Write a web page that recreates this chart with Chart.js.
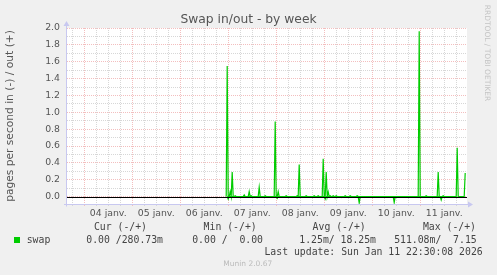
<!DOCTYPE html>
<html><head><meta charset="utf-8">
<script src="https://cdn.jsdelivr.net/npm/chart.js@4"></script>
<style>
html,body{margin:0;padding:0;background:#f0f0f0;}
#wrap{position:relative;width:497px;height:275px;overflow:hidden;}
canvas{position:absolute;left:0;top:0;}
.t{position:absolute;white-space:pre;font-family:'DejaVu Sans Mono',monospace;font-size:9.8px;line-height:12px;color:#444;}
.m{position:absolute;white-space:pre;font-family:'DejaVu Sans',sans-serif;font-size:7.5px;line-height:10px;color:#bbb;}
</style></head><body>
<div id="wrap">
<canvas id="c" width="497" height="275"></canvas>
<div id="legend"></div>
</div>
<script>
// ---- data (hours since 04 janv. 00:00, half-hour samples) ----
const chartTitle = 'Swap in/out - by week';
const yAxisTitle = 'pages per second in (-) / out (+)';
const dayLabels = ['04 janv.','05 janv.','06 janv.','07 janv.','08 janv.','09 janv.','10 janv.','11 janv.'];
const yTickLabels = ['0.0','0.2','0.4','0.6','0.8','1.0','1.2','1.4','1.6','1.8','2.0'];
const xStartHour = -8.6, xEndHour = 191.4, lastSampleHour = 190.5;
const outHours  = [71.5,73,74,75.5,80,82.5,83.5,87.5,90.5,95.5,97,101,106.5,107.5,111,115,117,119.5,121,122,123,124.5,126,130.5,133,136.5,167.5,171,177,179.5,186.5,190.5];
const outValues = [1.55,0.06,0.29,0.01,0.02,0.06,0.01,0.11,0.01,0.89,0.06,0.01,0.01,0.38,0.01,0.01,0.01,0.45,0.29,0.055,0.01,0.01,0.01,0.01,0.01,0.01,1.96,0.01,0.29,0.01,0.58,0.28];
const inHours   = [72,96.5,120.5,128.5,137.5,155,178.5];
const inValues  = [-0.03,-0.02,-0.03,-0.01,-0.075,-0.07,-0.04];
const legendName = 'swap';
const statHeaders = ['Cur (-/+)','Min (-/+)','Avg (-/+)','Max (-/+)'];
const statValues  = ['0.00 /280.73m','0.00 /  0.00','1.25m/ 18.25m','511.08m/  7.15'];
const lastUpdate = 'Last update: Sun Jan 11 22:30:08 2026';
const footer = 'Munin 2.0.67';

// ---- legend (HTML text) ----
const lg = document.getElementById('legend');
function addT(cls, txt, style){ const d=document.createElement('div'); d.className=cls; d.textContent=txt; Object.assign(d.style, style); lg.appendChild(d); return d; }
const headerRight = [350, 240.3, 131.3, 21];
const valueRight  = [334, 234, 121, 20.3];
statHeaders.forEach((h,i)=>addT('t', h, {right: headerRight[i]+'px', top:'221.3px'}));
statValues.forEach((v,i)=>addT('t', v, {right: valueRight[i]+'px', top:'234px'}));
addT('t', legendName, {left:'26.7px', top:'234px'});
addT('t', '', {left:'14px', top:'237px', width:'6px', height:'6px', background:'#00cc00'});
addT('t', lastUpdate, {right:'14.3px', top:'245.7px'});
addT('m', footer, {left:'0px', width:'495.5px', textAlign:'center', top:'259px'});

// ---- series ----
function spikeSeries(hours, values){
  const m = new Map();
  hours.forEach((h,i)=>m.set(h, values[i]));
  hours.forEach(h=>{ [h-0.5,h+0.5].forEach(f=>{ if(!m.has(f) && f<=lastSampleHour) m.set(f,0); }); });
  return [...m.entries()].sort((a,b)=>a[0]-b[0]).map(([x,y])=>({x,y}));
}

const RED = 'rgb(243,190,190)', GREY = 'rgb(215,215,215)', AXIS = 'rgb(200,200,240)';
const FONT = 'DejaVu Sans';

const decor = {
  id:'decor',
  beforeDraw(chart){
    const {ctx, chartArea:a} = chart;
    ctx.save();
    ctx.fillStyle = '#f0f0f0'; ctx.fillRect(0,0,chart.width,chart.height);
    ctx.fillStyle = '#ffffff'; ctx.fillRect(a.left, a.top, a.right-a.left, a.bottom-a.top);
    ctx.restore();
  },
  afterDatasetsDraw(chart){
    const {ctx, chartArea:a, scales} = chart;
    const y0 = Math.round(scales.y.getPixelForValue(0)) + 0.5;
    ctx.save();
    ctx.strokeStyle = '#000'; ctx.lineWidth = 1;
    ctx.beginPath(); ctx.moveTo(a.left, y0); ctx.lineTo(a.right, y0); ctx.stroke();
    ctx.restore();
  },
  afterDraw(chart){
    const {ctx, chartArea:a} = chart;
    ctx.save();
    ctx.strokeStyle = AXIS; ctx.fillStyle = AXIS; ctx.lineWidth = 1;
    const xl = a.left - 0.5, yb = a.bottom + 0.5;
    ctx.beginPath(); ctx.moveTo(xl, yb + 2); ctx.lineTo(xl, a.top - 3); ctx.stroke();
    ctx.beginPath(); ctx.moveTo(a.left - 3, yb); ctx.lineTo(a.right + 2, yb); ctx.stroke();
    ctx.beginPath(); ctx.moveTo(xl - 3, a.top - 2); ctx.lineTo(xl + 3, a.top - 2); ctx.lineTo(xl, a.top - 7); ctx.closePath(); ctx.fill();
    ctx.beginPath(); ctx.moveTo(a.right + 1, yb - 3); ctx.lineTo(a.right + 1, yb + 3); ctx.lineTo(a.right + 6, yb); ctx.closePath(); ctx.fill();
    // title
    ctx.fillStyle = '#555'; ctx.font = '12.3px "' + FONT + '"'; ctx.textAlign = 'center'; ctx.textBaseline = 'middle';
    ctx.fillText(chartTitle, 248.5, 19.4);
    // rrdtool credit
    ctx.translate(487, 53); ctx.rotate(Math.PI/2);
    ctx.fillStyle = '#c4c4c4'; ctx.font = '7.5px "' + FONT + '"';
    ctx.fillText('RRDTOOL / TOBI OETIKER', 0, 0);
    ctx.restore();
  }
};

new Chart(document.getElementById('c'), {
  type:'line',
  data:{ datasets:[
    { label:legendName+' out', data:spikeSeries(outHours, outValues), borderColor:'#00cc00', borderWidth:1.2, pointRadius:0, fill:false, tension:0 },
    { label:legendName+' in', data:spikeSeries(inHours, inValues), borderColor:'#00cc00', borderWidth:1.2, pointRadius:0, fill:false, tension:0 }
  ]},
  options:{
    responsive:false, animation:false, devicePixelRatio:1,
    layout:{ padding:{ top:28, right:30, bottom:0, left:0 } },
    plugins:{ legend:{display:false}, tooltip:{enabled:false}, title:{display:false} },
    scales:{
      x:{
        type:'linear', min:xStartHour, max:xEndHour,
        afterBuildTicks: s => { const t=[]; for(let h=-6; h<=xEndHour; h+=6) t.push({value:h}); s.ticks=t; },
        afterFit: s => { s.height = 71; },
        ticks:{ autoSkip:false, maxRotation:0, minRotation:0, padding:2, color:'#555', font:{family:FONT, size:9.33},
          callback: v => (((v%24)+24)%24===12) ? dayLabels[(v-12)/24] : '' },
        grid:{ color: c => (c.tick && ((c.tick.value%24)+24)%24===0) ? RED : GREY,
               tickColor: c => (c.tick && ((c.tick.value%24)+24)%24===0) ? RED : GREY,
               tickLength:2, drawTicks:true, tickBorderDash:[], lineWidth:1 },
        border:{ display:false, dash:[1,1] }
      },
      y:{
        type:'linear', min:-0.088, max:2.0,
        afterBuildTicks: s => { const t=[]; for(let i=0;i<=20;i++) t.push({value:i/10}); s.ticks=t; },
        afterFit: s => { s.width = 67; },
        ticks:{ autoSkip:false, padding:7, color:'#555', font:{family:FONT, size:9.33},
          callback: v => { const k=Math.round(v*10); return k%2===0 ? yTickLabels[k/2] : ''; } },
        grid:{ color: c => (c.tick && Math.round(c.tick.value*10)%2===0) ? RED : GREY, drawTicks:false, lineWidth:1 },
        border:{ display:false, dash:[1,1] },
        title:{ display:true, text:yAxisTitle, color:'#555', font:{family:FONT, size:10.67}, padding:{top:4, bottom:0} }
      }
    }
  },
  plugins:[decor]
});
</script>
</body></html>
